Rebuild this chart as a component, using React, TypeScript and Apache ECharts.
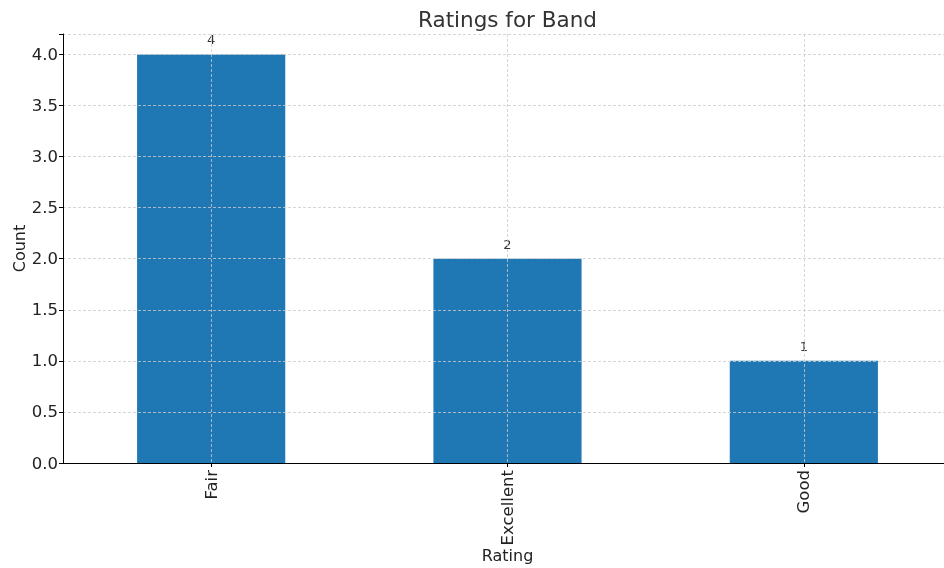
import React, { useEffect, useRef } from "react";
import * as echarts from "echarts";

const categories: string[] = ["Fair", "Excellent", "Good"];
const counts: number[] = [4, 2, 1];
const yMin = 0;
const yMax = 4.2;
const yInterval = 0.5;

const FONT = "DejaVu Sans";

export default function App() {
  const ref = useRef<HTMLDivElement>(null);
  useEffect(() => {
    if (!ref.current) return;
    const chart = echarts.init(ref.current, undefined, { renderer: "svg" });
    const left = 63;
    const right = -8;
    const top = 34;
    const bottom = 105;
    // vertical grid lines at category centres: 2*n+1 slots, lines at odd slots
    const slots: string[] = Array.from({ length: categories.length * 2 + 1 }, () => "");
    const dashed = { show: true, lineStyle: { color: "#cccccc", type: [3, 2], width: 0.8 } };
    chart.setOption({
      animation: false,
      textStyle: { fontFamily: FONT },
      title: {
        text: "Ratings for Band",
        left: 418,
        top: 8,
        padding: 0,
        textStyle: { fontFamily: FONT, fontSize: 21.5, fontWeight: "normal", color: "#333333" },
      },
      grid: [
        { left, right, top, bottom, containLabel: false, outerBoundsMode: "none" },
        { left, right, top, bottom, containLabel: false, outerBoundsMode: "none" },
      ],
      xAxis: [
        {
          type: "category",
          gridIndex: 0,
          data: categories,
          z: 20,
          name: "Rating",
          nameLocation: "middle",
          nameGap: 84,
          nameMoveOverlap: false,
          nameTextStyle: { fontFamily: FONT, fontSize: 16, color: "#222222" },
          axisLine: { show: true, lineStyle: { color: "#000000", width: 1 } },
          axisTick: { show: true, alignWithLabel: true, length: 4, lineStyle: { color: "#000000" } },
          axisLabel: { rotate: 90, fontFamily: FONT, fontSize: 16.5, color: "#222222", margin: 7 },
          splitLine: { show: false },
        },
        {
          type: "category",
          gridIndex: 1,
          data: slots,
          boundaryGap: false,
          z: 10,
          axisLine: { show: false },
          axisTick: { show: false },
          axisLabel: { show: false },
          splitLine: { ...dashed, interval: (index: number) => index % 2 === 1 },
        },
      ],
      yAxis: [
        {
          type: "value",
          gridIndex: 0,
          min: yMin,
          max: yMax,
          interval: yInterval,
          z: 20,
          name: "Count",
          nameLocation: "middle",
          nameGap: 36,
          nameMoveOverlap: false,
          nameRotate: 90,
          nameTextStyle: { fontFamily: FONT, fontSize: 16, color: "#222222" },
          axisLine: { show: true, lineStyle: { color: "#000000", width: 1 } },
          axisTick: { show: true, length: 4, lineStyle: { color: "#000000" } },
          axisLabel: {
            fontFamily: FONT,
            fontSize: 16.5,
            color: "#222222",
            margin: 5,
            formatter: (v: number) =>
              Math.abs(v / yInterval - Math.round(v / yInterval)) < 1e-6 ? v.toFixed(1) : "",
          },
          splitLine: { show: false },
        },
        {
          type: "value",
          gridIndex: 1,
          min: yMin,
          max: yMax,
          interval: yInterval,
          z: 10,
          axisLine: { show: false },
          axisTick: { show: false },
          axisLabel: { show: false },
          splitLine: dashed,
        },
      ],
      series: [
        {
          type: "bar",
          xAxisIndex: 0,
          yAxisIndex: 0,
          data: counts,
          barWidth: "50%",
          itemStyle: { color: "#1f77b4" },
          label: {
            show: true,
            position: "top",
            distance: 8,
            fontFamily: FONT,
            fontSize: 13,
            color: "#333333",
          },
        },
      ],
    });
    return () => chart.dispose();
  }, []);
  return (
    <div
      ref={ref}
      style={{ position: "fixed", left: 0, top: 0, width: 944, height: 568, overflow: "hidden" }}
    />
  );
}
